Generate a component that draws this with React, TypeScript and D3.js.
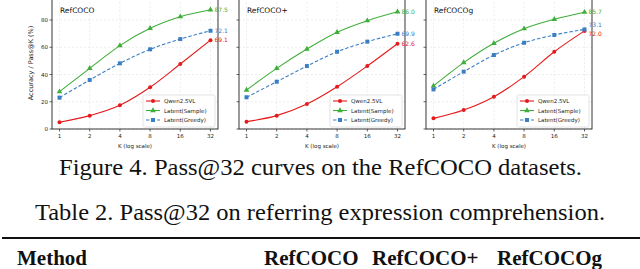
import React from "react";
import * as d3 from "d3";

const width = 640;
const height = 269;

const ks = [1, 2, 4, 8, 16, 32];
const datasets = ["RefCOCO", "RefCOCO+", "RefCOCOg"];
const seriesNames = ["Qwen2.5VL", "Latent(Sample)", "Latent(Greedy)"];

// values per dataset
const qwen = [
  [4.9, 9.8, 17.4, 30.6, 47.7, 65.2],
  [5.4, 9.8, 18.3, 31.0, 46.2, 62.6],
  [7.8, 13.9, 23.7, 38.4, 56.7, 72.0],
];
const latentSample = [
  [27.4, 44.5, 61.2, 73.9, 82.4, 87.5],
  [28.6, 44.5, 58.7, 71.0, 79.5, 86.0],
  [31.6, 48.7, 62.9, 73.6, 80.5, 85.7],
];
const latentGreedy = [
  [23.0, 36.0, 48.2, 58.5, 66.0, 72.1],
  [23.3, 34.7, 46.2, 56.7, 64.1, 69.9],
  [29.1, 42.1, 54.3, 63.3, 69.0, 73.1],
];
const endLabels = [
  ["69.1", "87.5", "72.1"],
  ["62.6", "86.0", "69.9"],
  ["72.0", "85.7", "73.1"],
];
const yTicks = [0, 20, 40, 60, 80];

const colors = ["#e41a1c", "#3fae3a", "#3a7ec4"];
const panelLeft = [52, 239, 426];
const panelW = 166;
const plotBottom = 129;

const chartFont = "DejaVu Sans, sans-serif";
const serif = "Liberation Serif, Times New Roman, serif";

function Marker({ kind, x, y, color }: { kind: number; x: number; y: number; color: string }) {
  if (kind === 0) return <circle cx={x} cy={y} r={2} fill={color} />;
  if (kind === 1) {
    const p = d3.symbol(d3.symbolTriangle, 14)();
    return <path d={p || ""} transform={`translate(${x},${y})`} fill={color} />;
  }
  return <rect x={x - 2} y={y - 2} width={4} height={4} fill={color} />;
}

function Panel({ idx }: { idx: number }) {
  const L = panelLeft[idx];
  const x = d3.scaleLog().base(2).domain([1, 32]).range([L + 7.5, L + 158.5]);
  const y = d3.scaleLinear().domain([0, 80]).range([plotBottom, 20]);
  const top = y(96);
  const all = [qwen[idx], latentSample[idx], latentGreedy[idx]];
  const line = d3
    .line<number>()
    .x((_, i) => x(ks[i]))
    .y((d) => y(d))
    .curve(d3.curveMonotoneX);
  const labelShift = idx === 2 ? [3, 0, -4] : [0, 0, 0];
  const legX = L + panelW - 75;
  const legY = 95;
  return (
    <g>
      {ks.map((k) => (
        <line key={"gx" + k} x1={x(k)} x2={x(k)} y1={top} y2={plotBottom}
          stroke="#dadada" strokeWidth={0.5} strokeDasharray="2,2" />
      ))}
      {yTicks.map((t) => (
        <line key={"gy" + t} x1={L} x2={L + panelW} y1={y(t)} y2={y(t)}
          stroke="#dadada" strokeWidth={0.5} strokeDasharray="2,2" />
      ))}
      <rect x={L} y={top} width={panelW} height={plotBottom - top} fill="none" stroke="#222" strokeWidth={0.9} />
      {ks.map((k) => (
        <g key={"xt" + k}>
          <line x1={x(k)} x2={x(k)} y1={plotBottom} y2={plotBottom + 2.5} stroke="#222" strokeWidth={0.7} />
          <text x={x(k)} y={plotBottom + 9} fontSize={5.5} textAnchor="middle" fill="#222" fontFamily={chartFont}>{k}</text>
        </g>
      ))}
      {yTicks.map((t) => (
        <g key={"yt" + t}>
          <line x1={L - 2.5} x2={L} y1={y(t)} y2={y(t)} stroke="#222" strokeWidth={0.7} />
          {idx === 0 && (
            <text x={L - 4} y={y(t) + 2} fontSize={5.5} textAnchor="end" fill="#222" fontFamily={chartFont}>{t}</text>
          )}
        </g>
      ))}
      <text x={L + panelW / 2} y={plotBottom + 19} fontSize={5.5} textAnchor="middle" fill="#222" fontFamily={chartFont}>K (log scale)</text>
      <text x={L + 8} y={13} fontSize={7.5} fill="#111" fontFamily={chartFont}>{datasets[idx]}</text>
      {all.map((vals, s) => (
        <g key={"s" + s}>
          <path d={line(vals) || ""} fill="none" stroke={colors[s]} strokeWidth={1.1}
            strokeDasharray={s === 2 ? "3.5,2" : undefined} />
          {vals.map((v, i) => (
            <Marker key={i} kind={s} x={x(ks[i])} y={y(v)} color={colors[s]} />
          ))}
          <text x={x(32) + 4} y={y(vals[5]) + 2 + labelShift[s]} fontSize={6} fill={colors[s]} fontFamily={chartFont}>
            {endLabels[idx][s]}
          </text>
        </g>
      ))}
      <rect x={legX} y={legY} width={72} height={32} fill="white" fillOpacity={0.85} stroke="#d0d0d0" strokeWidth={0.6} rx={1.5} />
      {seriesNames.map((name, s) => (
        <g key={"l" + s}>
          <line x1={legX + 3} x2={legX + 17} y1={legY + 6 + s * 9.5} y2={legY + 6 + s * 9.5}
            stroke={colors[s]} strokeWidth={1.1} strokeDasharray={s === 2 ? "3.5,2" : undefined} />
          <Marker kind={s} x={legX + 10} y={legY + 6 + s * 9.5} color={colors[s]} />
          <text x={legX + 21} y={legY + 8 + s * 9.5} fontSize={5.5} fill="#222" fontFamily={chartFont}>{name}</text>
        </g>
      ))}
    </g>
  );
}

export default function App() {
  return (
    <svg width={width} height={height} style={{ position: "absolute", left: 0, top: 0, background: "white" }}>
      <text x={33} y={63} fontSize={6.5} textAnchor="middle" fill="#222" fontFamily={chartFont}
        transform="rotate(-90,33,63)">Accuracy / Pass@K (%)</text>
      {datasets.map((_, i) => (
        <Panel key={i} idx={i} />
      ))}
      <text x={59} y={175} fontSize={24} textLength={523} lengthAdjust="spacingAndGlyphs" fill="#111" fontFamily={serif}>
        Figure 4. Pass@32 curves on the RefCOCO datasets.
      </text>
      <text x={35} y={220} fontSize={24} textLength={570} lengthAdjust="spacingAndGlyphs" fill="#111" fontFamily={serif}>
        Table 2. Pass@32 on referring expression comprehension.
      </text>
      <line x1={2} x2={640} y1={238} y2={238} stroke="#111" strokeWidth={2} />
      <text x={17} y={265} fontSize={21} fontWeight="bold" fill="#111" fontFamily={serif}>Method</text>
      <text x={264} y={265} fontSize={21} fontWeight="bold" fill="#111" fontFamily={serif}>RefCOCO</text>
      <text x={372} y={265} fontSize={21} fontWeight="bold" fill="#111" fontFamily={serif}>RefCOCO+</text>
      <text x={497} y={265} fontSize={21} fontWeight="bold" fill="#111" fontFamily={serif}>RefCOCOg</text>
    </svg>
  );
}
